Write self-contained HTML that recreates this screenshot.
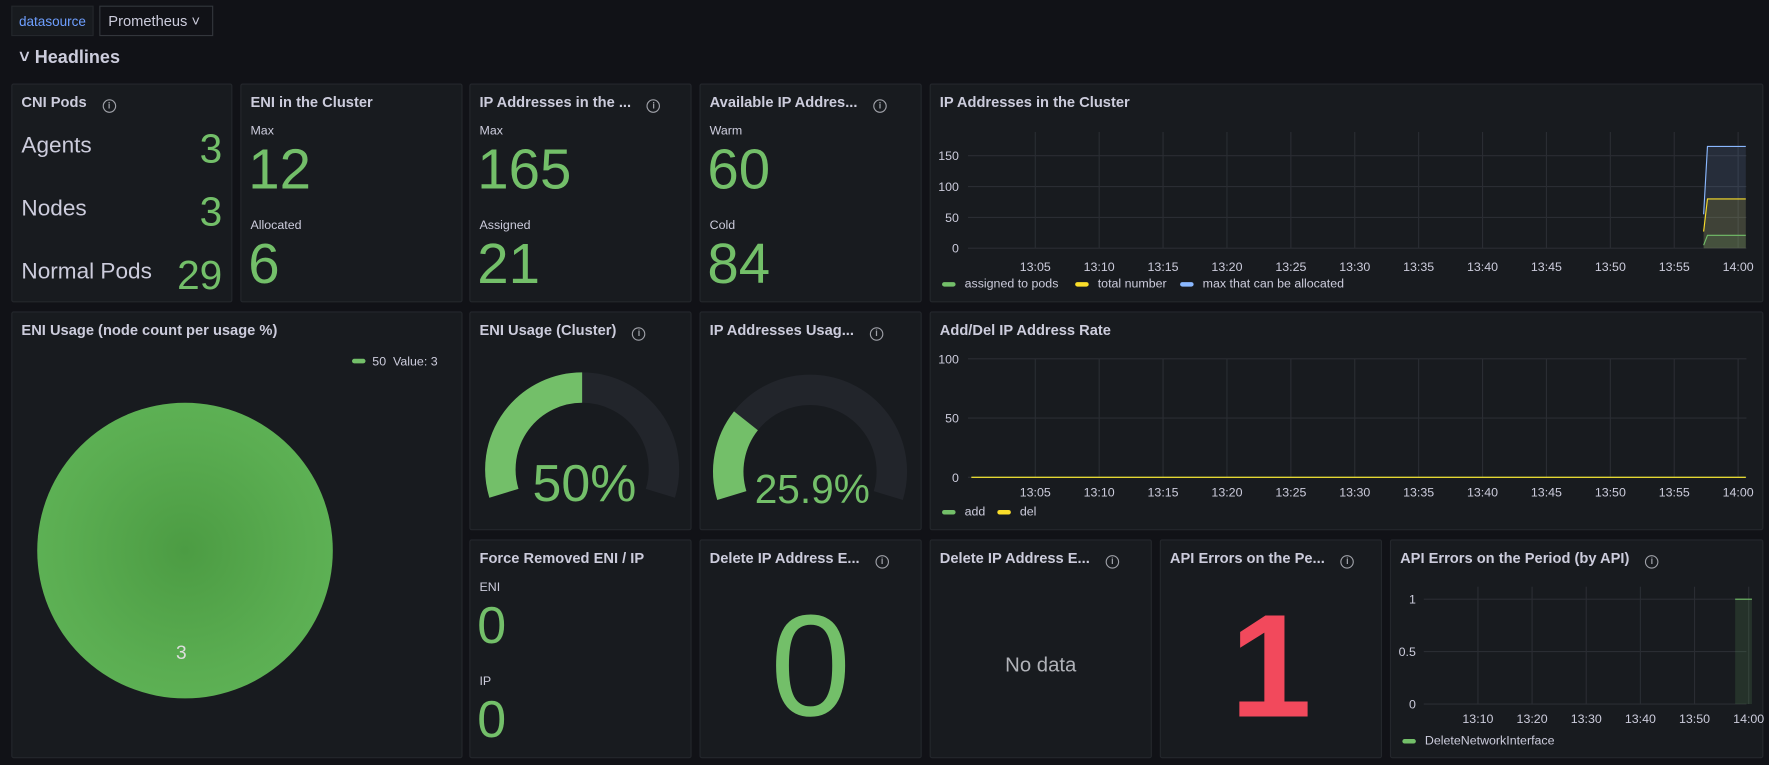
<!DOCTYPE html>
<html><head><meta charset="utf-8">
<style>
html,body{margin:0;padding:0;background:#111217;width:1769px;height:765px;overflow:hidden;font-family:"Liberation Sans",sans-serif;}
#root{position:absolute;left:0;top:0;width:1568px;height:678px;transform:scale(1.12819,1.1283);transform-origin:0 0;}
.p{position:absolute;background:#181b1f;border:1px solid #24272c;border-radius:2px;box-sizing:border-box;}
.t{position:absolute;left:8px;top:8px;color:#ccccdc;font-size:13px;font-weight:bold;white-space:nowrap;}
.i{display:inline-block;width:10px;height:10px;border:1.3px solid #9fa1a8;border-radius:50%;font-size:8px;line-height:10px;text-align:center;color:#9fa1a8;margin-left:14px;vertical-align:-1px;font-weight:bold;}
.abs{position:absolute;white-space:nowrap;}
.g{color:#73bf69;}
.lab{color:#ccccdc;font-size:11px;}
svg text{font-family:"Liberation Sans",sans-serif;}
</style></head><body>
<div id="root">
<div class="abs" style="left:10px;top:5px;width:73px;height:27px;border:1px solid #24272c;background:#181b1f;color:#6e9fff;font-size:12px;line-height:27px;text-align:center;box-sizing:border-box">datasource</div>
<div class="abs" style="left:88px;top:5px;width:101px;height:27px;border:1px solid #33363c;color:#ccccdc;font-size:13px;line-height:25px;padding-left:7px;box-sizing:border-box">Prometheus ˅</div>
<div class="abs" style="left:17px;top:43px;color:#ccccdc;font-size:16px;font-weight:bold">˅ Headlines</div>

<div class="p" style="left:10px;top:74px;width:196px;height:194px">
<div class="t">CNI Pods<span class="i">i</span></div>
<div class="abs" style="left:8px;top:43px;color:#ccccdc;font-size:20px">Agents</div><div class="abs g" style="right:8px;top:36px;font-size:36px">3</div>
<div class="abs" style="left:8px;top:99px;color:#ccccdc;font-size:20px">Nodes</div><div class="abs g" style="right:8px;top:92px;font-size:36px">3</div>
<div class="abs" style="left:8px;top:155px;color:#ccccdc;font-size:20px">Normal Pods</div><div class="abs g" style="right:8px;top:148px;font-size:36px">29</div>
</div>

<div class="p" style="left:213px;top:74px;width:197px;height:194px">
<div class="t">ENI in the Cluster</div>
<div class="abs lab" style="left:8px;top:35px">Max</div><div class="abs g" style="left:6px;top:46px;font-size:50px">12</div>
<div class="abs lab" style="left:8px;top:119px">Allocated</div><div class="abs g" style="left:6px;top:130px;font-size:50px">6</div>
</div>
<div class="p" style="left:416px;top:74px;width:197px;height:194px">
<div class="t">IP Addresses in the ...<span class="i">i</span></div>
<div class="abs lab" style="left:8px;top:35px">Max</div><div class="abs g" style="left:6px;top:46px;font-size:50px">165</div>
<div class="abs lab" style="left:8px;top:119px">Assigned</div><div class="abs g" style="left:6px;top:130px;font-size:50px">21</div>
</div>
<div class="p" style="left:620px;top:74px;width:197px;height:194px">
<div class="t">Available IP Addres...<span class="i">i</span></div>
<div class="abs lab" style="left:8px;top:35px">Warm</div><div class="abs g" style="left:6px;top:46px;font-size:50px">60</div>
<div class="abs lab" style="left:8px;top:119px">Cold</div><div class="abs g" style="left:6px;top:130px;font-size:50px">84</div>
</div>

<div class="p" style="left:824px;top:74px;width:739px;height:194px">
<div class="t">IP Addresses in the Cluster</div></div>
<div class="p" style="left:824px;top:276px;width:739px;height:194px">
<div class="t">Add/Del IP Address Rate</div></div>
<div class="p" style="left:1232px;top:478px;width:331px;height:194px">
<div class="t">API Errors on the Period (by API)<span class="i">i</span></div></div>

<div class="p" style="left:10px;top:276px;width:400px;height:396px">
<div class="t">ENI Usage (node count per usage %)</div>
<div class="abs" style="left:301px;top:38px;color:#ccccdc;font-size:11px"><span style="display:inline-block;width:12px;height:4px;background:#73bf69;border-radius:2px;vertical-align:2px;margin-right:6px"></span>50&nbsp;&nbsp;Value: 3</div>
<div class="abs" style="left:22px;top:80px;width:262px;height:262px;border-radius:50%;background:radial-gradient(circle,#4c9c43 0%,#5bae52 60%,#62b659 100%)"></div>
<div class="abs" style="left:145px;top:292px;color:#ddd;font-size:17px">3</div>
</div>

<div class="p" style="left:416px;top:276px;width:197px;height:194px"><div class="t">ENI Usage (Cluster)<span class="i">i</span></div></div>
<div class="p" style="left:620px;top:276px;width:197px;height:194px"><div class="t">IP Addresses Usag...<span class="i">i</span></div></div>

<div class="p" style="left:416px;top:478px;width:197px;height:194px">
<div class="t">Force Removed ENI / IP</div>
<div class="abs lab" style="left:8px;top:36px">ENI</div><div class="abs g" style="left:6px;top:48px;font-size:46px">0</div>
<div class="abs lab" style="left:8px;top:119px">IP</div><div class="abs g" style="left:6px;top:131px;font-size:46px">0</div>
</div>
<div class="p" style="left:620px;top:478px;width:197px;height:194px">
<div class="t">Delete IP Address E...<span class="i">i</span></div>
<div class="abs g" style="left:0;width:195px;text-align:center;top:38px;font-size:128px">0</div></div>
<div class="p" style="left:824px;top:478px;width:197px;height:194px">
<div class="t">Delete IP Address E...<span class="i">i</span></div>
<div class="abs" style="left:0;width:195px;text-align:center;top:100px;font-size:18px;color:#b0b2b8">No data</div></div>
<div class="p" style="left:1028px;top:478px;width:197px;height:194px">
<div class="t">API Errors on the Pe...<span class="i">i</span></div>
<div class="abs" style="left:0;width:195px;text-align:center;top:36px;font-size:130px;color:#f2495c;font-weight:bold">1</div></div>

<svg id="charts" width="1568" height="678" style="position:absolute;left:0;top:0"></svg>
</div>
<script>
const ipTimes=['13:05','13:10','13:15','13:20','13:25','13:30','13:35','13:40','13:45','13:50','13:55','14:00'];
const ipTickVals=[0,50,100,150];
const ipSeriesT=[57.3,57.6,60.6];
const ipAssigned=[5,21,21];
const ipTotal=[27,80,80];
const ipMax=[55,165,165];
const rateTickVals=[0,50,100];
const rateT=[0,60.6];
const rateAdd=[0,0];
const rateDel=[0,0];
const apiTimes=['13:10','13:20','13:30','13:40','13:50','14:00'];
const apiTickVals=[0,0.5,1];
const apiBarT=[57.5,60.6];
const apiVal=[1,1];
const gaugeVals=[50,25.9];
const gaugeLabels=['50%','25.9%'];

const svg=document.getElementById('charts');
const NS='http://www.w3.org/2000/svg';
function mk(tag,attrs,parent){const e=document.createElementNS(NS,tag);for(const k in attrs)e.setAttribute(k,attrs[k]);(parent||svg).appendChild(e);return e;}
function txt(x,y,s,anchor,size,fill){const e=mk('text',{x:x,y:y,'text-anchor':anchor,'font-size':size,fill:fill});e.textContent=s;return e;}
function minOf(s){const p=s.split(':');return (+p[0]-13)*60+(+p[1]);}

(function(){
 const x0=861,pxPerMin=(1541-918)/55,right=1548;
 const X=m=>x0+m*pxPerMin, Y=v=>220-v*(82/150);
 ipTickVals.forEach(v=>{const l=mk('line',{x1:858,x2:right,y1:Y(v),y2:Y(v),stroke:'#2a2d33'});
 
 const t=txt(850,Y(v)+4,String(v),'end',11,'#ccccdc');});
 ipTimes.forEach(s=>{const x=X(minOf(s));mk('line',{x1:x,x2:x,y1:117,y2:220,stroke:'#2a2d33'});
 const t=txt(x,240,s,'middle',11,'#ccccdc');});
 [[ipMax,'#8ab8ff'],[ipTotal,'#fade2a'],[ipAssigned,'#73bf69']].forEach(([d,c])=>{
  let pts=ipSeriesT.map((t,i)=>X(t)+','+Y(d[i])).join(' ');
  const a=mk('polygon',{points:X(ipSeriesT[0])+','+Y(0)+' '+pts+' '+X(ipSeriesT[ipSeriesT.length-1])+','+Y(0),fill:c,'fill-opacity':0.12});
  
  const l=mk('polyline',{points:pts,fill:'none',stroke:c,'stroke-width':1});
  
 });
 const leg=[['assigned to pods','#73bf69',835],['total number','#fade2a',953],['max that can be allocated','#8ab8ff',1046]];
 leg.forEach(([s,c,x])=>{const r=mk('rect',{x:x,y:250,width:12,height:4,rx:2,fill:c});
 const t=txt(x+20,255,s,'start',11,'#ccccdc');});
})();
(function(){
 const x0=861,pxPerMin=(1541-918)/55,right=1548;
 const X=m=>x0+m*pxPerMin, Y=v=>423-v*(105/100);
 rateTickVals.forEach(v=>{mk('line',{x1:858,x2:right,y1:Y(v),y2:Y(v),stroke:'#2a2d33'});
 const t=txt(850,Y(v)+4,String(v),'end',11,'#ccccdc');});
 ipTimes.forEach(s=>{const x=X(minOf(s));mk('line',{x1:x,x2:x,y1:318,y2:423,stroke:'#2a2d33'});
 const t=txt(x,440,s,'middle',11,'#ccccdc');});
 [[rateAdd,'#73bf69'],[rateDel,'#fade2a']].forEach(([d,c])=>{
  const l=mk('polyline',{points:rateT.map((t,i)=>X(t)+','+Y(d[i])).join(' '),fill:'none',stroke:c,'stroke-width':1});
  });
 [['add','#73bf69',835],['del','#fade2a',884]].forEach(([s,c,x])=>{mk('rect',{x:x,y:452,width:12,height:4,rx:2,fill:c});
 const t=txt(x+20,457,s,'start',11,'#ccccdc');});
})();
(function(){
 const x0=1262,pxPerMin=(1358-1310)/10,right=1548;
 const X=m=>x0+m*pxPerMin, Y=v=>624-v*93;
 apiTickVals.forEach(v=>{mk('line',{x1:1262,x2:right,y1:Y(v),y2:Y(v),stroke:'#2a2d33'});
 const t=txt(1255,Y(v)+4,String(v),'end',11,'#ccccdc');});
 apiTimes.forEach(s=>{const x=X(minOf(s));mk('line',{x1:x,x2:x,y1:520,y2:624,stroke:'#2a2d33'});
 const t=txt(x,641,s,'middle',11,'#ccccdc');});
 const b=mk('rect',{x:X(apiBarT[0]),y:Y(apiVal[0]),width:X(apiBarT[1])-X(apiBarT[0]),height:Y(0)-Y(apiVal[0]),fill:'#73bf69','fill-opacity':0.15});
 
 mk('line',{x1:X(apiBarT[0]),x2:X(apiBarT[1]),y1:Y(apiVal[1]),y2:Y(apiVal[1]),stroke:'#73bf69'});
 mk('rect',{x:1243,y:655,width:12,height:4,rx:2,fill:'#73bf69'});
 const t=txt(1263,660,'DeleteNetworkInterface','start',11,'#ccccdc');
})();
(function(){
 const centers=[[516,416],[718,418]];
 const R=86,w=27,start=197,sweep=214;
 function arc(c,a0,a1){const r=R-w/2;const p=a=>[c[0]+r*Math.cos(a*Math.PI/180),c[1]-r*Math.sin(a*Math.PI/180)];
  const [x0,y0]=p(a0),[x1,y1]=p(a1);return `M${x0},${y0} A${r},${r} 0 ${Math.abs(a0-a1)>180?1:0} 1 ${x1},${y1}`;}
 gaugeVals.forEach((v,i)=>{const c=centers[i];
  const bg=mk('path',{d:arc(c,start,start-sweep),stroke:'#22252b','stroke-width':w,fill:'none'});
  
  const fg=mk('path',{d:arc(c,start,start-sweep*v/100),stroke:'#73bf69','stroke-width':w,fill:'none'});
  
  const t=txt(c[0]+2,c[1]+28,gaugeLabels[i],'middle',i?36:46,'#73bf69');
  
 });
})();
</script>
</body></html>
